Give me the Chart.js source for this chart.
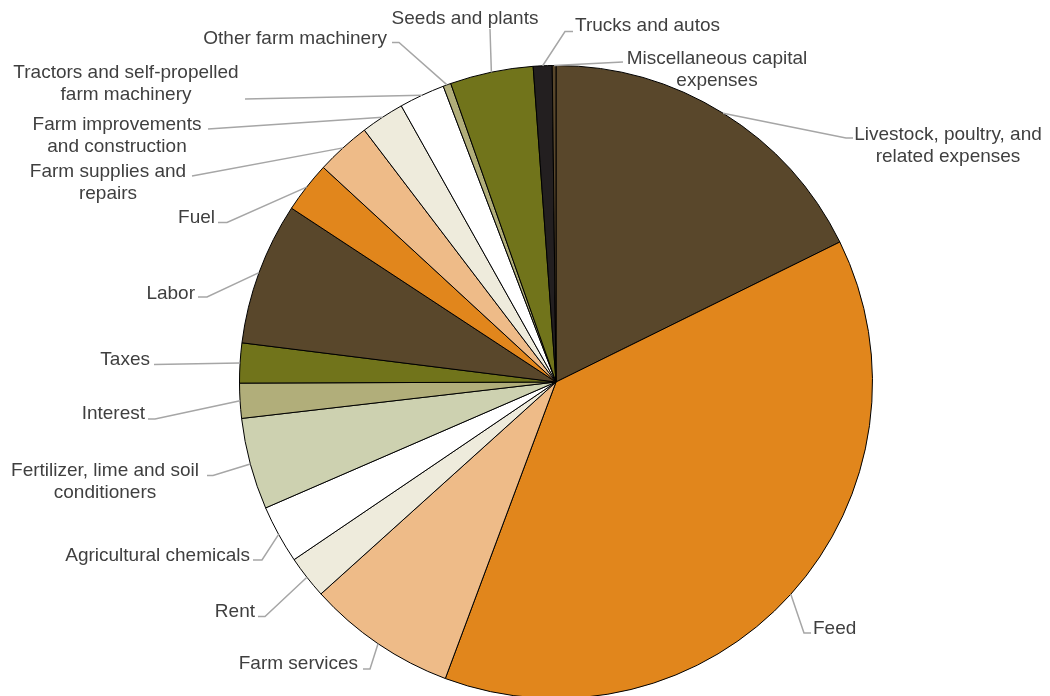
<!DOCTYPE html>
<html>
<head>
    <title>Farm production expenses</title>
    <style>
        html, body { margin: 0; padding: 0; background: #fff; overflow: hidden; }
        #pie { position: absolute; left: 0; top: 0; }
    </style>
</head>
<body>
    <canvas id="pie" width="1050" height="700"></canvas>
<script src="https://cdn.jsdelivr.net/npm/chart.js"></script>
<script>
    // expense categories, clockwise from 12 o'clock
    const categories = [
        "Livestock, poultry, and related expenses",
        "Feed",
        "Farm services",
        "Rent",
        "Agricultural chemicals",
        "Fertilizer, lime and soil conditioners",
        "Interest",
        "Taxes",
        "Labor",
        "Fuel",
        "Farm supplies and repairs",
        "Farm improvements and construction",
        "Tractors and self-propelled farm machinery",
        "Other farm machinery",
        "Seeds and plants",
        "Trucks and autos",
        "Miscellaneous capital expenses"
    ];
    // share of total expenses, percent
    const shares = [17.69, 37.94, 7.63, 2.19, 2.97, 4.67, 1.78, 2.03, 7.27, 2.6, 2.79, 2.22, 2.33, 0.4, 4.24, 0.96, 0.19];

    const brown = '#59472b', orange = '#e1861c', lightOrange = '#eebb88', cream = '#eeebdc',
          white = '#ffffff', sage = '#cdd1b0', khaki = '#b1ae7a', olive = '#71741b', black = '#231f20';
    const sliceColors = [brown, orange, lightOrange, cream, white, sage, khaki, olive,
                         brown, orange, lightOrange, cream, white, khaki, olive, black, brown];

    // label text lines (how the category names wrap)
    const labelLines = [
        ["Livestock, poultry, and", "related expenses"],
        ["Feed"],
        ["Farm services"],
        ["Rent"],
        ["Agricultural chemicals"],
        ["Fertilizer, lime and soil", "conditioners"],
        ["Interest"],
        ["Taxes"],
        ["Labor"],
        ["Fuel"],
        ["Farm supplies and", "repairs"],
        ["Farm improvements", "and construction"],
        ["Tractors and self-propelled", "farm machinery"],
        ["Other farm machinery"],
        ["Seeds and plants"],
        ["Trucks and autos"],
        ["Miscellaneous capital", "expenses"]
    ];

    // where each label sits and the bends of its leader line
    const labelLayout = [
        {x: 948, y: 133, align: 'center', leader: [[846, 138], [853, 138]]},
        {x: 813, y: 627, align: 'left', leader: [[804, 633], [811, 633]]},
        {x: 358, y: 662, align: 'right', leader: [[370, 669], [363, 669]]},
        {x: 255, y: 610, align: 'right', leader: [[265, 616.5], [258, 616.5]]},
        {x: 250, y: 554, align: 'right', leader: [[262, 560], [253, 560]]},
        {x: 105, y: 469, align: 'center', leader: [[213, 475.5], [207, 475.5]]},
        {x: 145, y: 412, align: 'right', leader: [[155, 419], [148, 419]]},
        {x: 150, y: 358, align: 'right', leader: [[154, 364.5]]},
        {x: 195, y: 292, align: 'right', leader: [[207, 297], [198, 297]]},
        {x: 215, y: 216, align: 'right', leader: [[227, 222.5], [218, 222.5]]},
        {x: 108, y: 170, align: 'center', leader: [[192, 176]]},
        {x: 117, y: 123, align: 'center', leader: [[208, 129]]},
        {x: 126, y: 71, align: 'center', leader: [[245, 99]]},
        {x: 387, y: 37, align: 'right', leader: [[399, 42.5], [392, 42.5]]},
        {x: 465, y: 17, align: 'center', leader: [[490, 29]]},
        {x: 575, y: 24, align: 'left', leader: [[565, 31.5], [573, 31.5]]},
        {x: 717, y: 57, align: 'center', leader: [[623, 62]]}
    ];

    const leaderLabels = {
        id: 'leaderLabels',
        afterDraw(chart){
            const ctx = chart.ctx;
            const arcs = chart.getDatasetMeta(0).data;
            ctx.save();
            ctx.strokeStyle = '#a6a6a6';
            ctx.lineWidth = 1.5;
            arcs.forEach((arc, i) => {
                const p = arc.getProps(['x', 'y', 'startAngle', 'endAngle', 'outerRadius'], true);
                const mid = (p.startAngle + p.endAngle) / 2;
                const lay = labelLayout[i];
                ctx.beginPath();
                ctx.moveTo(p.x + Math.cos(mid) * p.outerRadius, p.y + Math.sin(mid) * p.outerRadius);
                lay.leader.forEach(pt => ctx.lineTo(pt[0], pt[1]));
                ctx.stroke();
            });
            ctx.fillStyle = '#3f3f3f';
            ctx.font = '19px "Liberation Sans", Arial, sans-serif';
            ctx.textBaseline = 'middle';
            labelLines.forEach((lines, i) => {
                const lay = labelLayout[i];
                ctx.textAlign = lay.align;
                lines.forEach((line, j) => ctx.fillText(line, lay.x, lay.y + 2 + j * 22));
            });
            ctx.restore();
        }
    };

    new Chart(document.getElementById('pie'), {
        type: 'pie',
        data: {
            labels: categories,
            datasets: [{
                data: shares,
                backgroundColor: sliceColors,
                borderColor: '#000000',
                borderWidth: 1
            }]
        },
        options: {
            responsive: false,
            animation: false,
            events: [],
            layout: { padding: { left: 239, right: 177, top: 65, bottom: 1 } },
            plugins: {
                legend: { display: false },
                tooltip: { enabled: false }
            }
        },
        plugins: [leaderLabels]
    });
</script>
</body>
</html>
